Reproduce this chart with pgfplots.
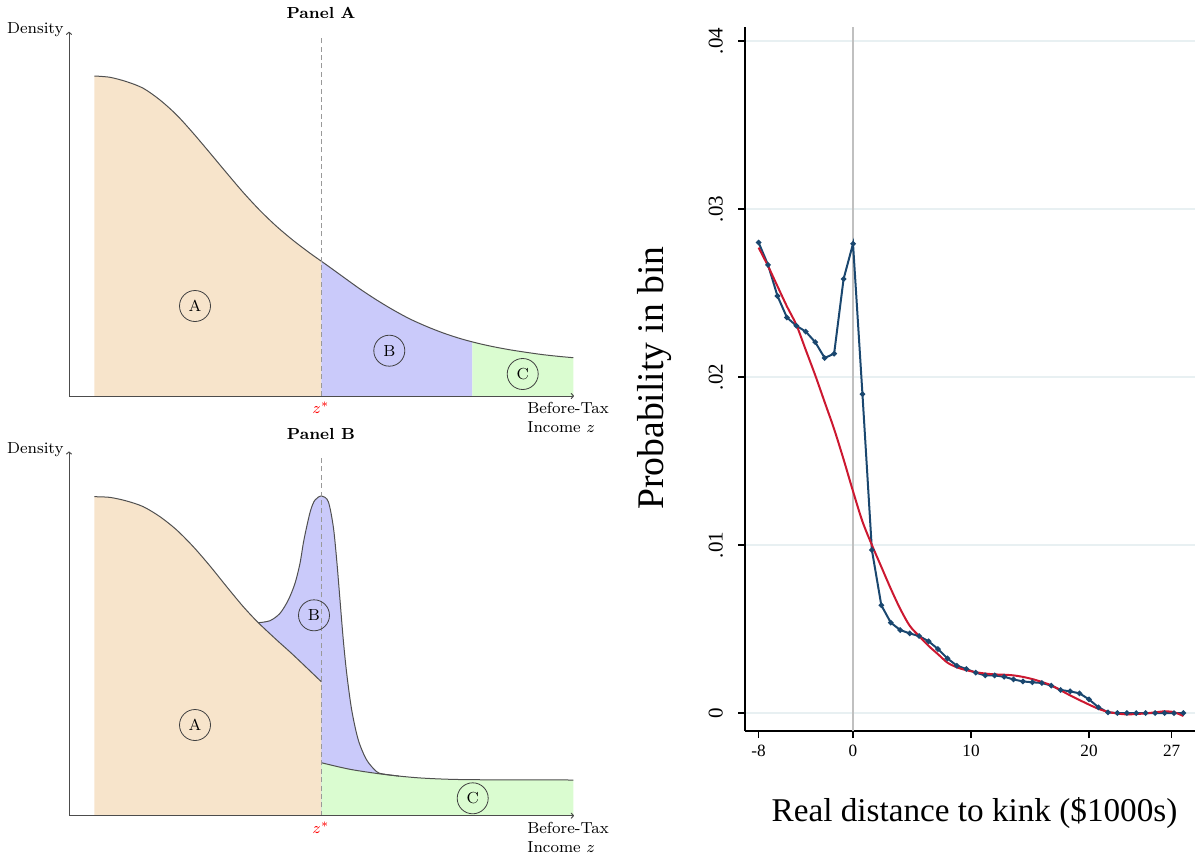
\documentclass[border=0pt]{standalone}
\usepackage{fontspec}
\usepackage{pgfplots}
\pgfplotsset{compat=1.18}
\usetikzlibrary{arrows.meta}
\newfontfamily\stata{Liberation Serif}
\definecolor{colA}{RGB}{247,228,203}
\definecolor{colB}{RGB}{202,202,250}
\definecolor{colC}{RGB}{218,252,208}
\definecolor{curv}{RGB}{80,80,80}
\definecolor{navy}{RGB}{26,71,111}
\definecolor{cranb}{RGB}{204,24,48}
\definecolor{sgrid}{RGB}{232,240,242}
\definecolor{zline}{RGB}{192,192,192}

\begin{document}
\begin{tikzpicture}
\useasboundingbox (0,0) rectangle (597.5pt,429.5pt);
\pgfplotsset{
  panel/.style={
    scale only axis, width=252.5pt, height=182.15pt,
    xmin=0, xmax=505, ymin=0, ymax=364.3,
    hide axis, clip=false, anchor=south west,
  },
}
\tikzset{
  circ/.style={circle, draw=black!75, line width=0.4pt, minimum size=15.5pt, inner sep=0pt, font=\fontsize{8}{9.5}\selectfont},
  lab/.style={font=\fontsize{8}{9.5}\selectfont},
  axarr/.style={draw=black!70, line width=0.5pt, -{To[length=1.6pt,width=3pt]}},
}

% ---------------- Panel A ----------------
\begin{axis}[panel, at={(34.5pt,231.5pt)}]
\addplot[fill=colA, draw=none, smooth] coordinates {(25.3,320) (41,318.7) (57.7,314.3) (74.3,307.7) (91,296) (107.7,281) (124.3,262.7) (141,243) (157.7,223) (174.3,203.5) (191,185.5) (207.7,169.5) (224.3,155.5) (241,142.8) (252.3,134.7)} \closedcycle;
\addplot[fill=colB, draw=none, smooth] coordinates {(252.3,134.7) (257.7,131) (274.3,119) (291,107) (307.7,96) (324.3,86) (341,77) (357.7,69.5) (374.3,63) (391,57.5) (403.3,54.2)} \closedcycle;
\addplot[fill=colC, draw=none, smooth] coordinates {(403.3,54.2) (407.7,53) (424.3,49.3) (441,46.2) (457.7,43.6) (474.3,41.3) (491,39.5) (504.3,38.3)} \closedcycle;
\addplot[curv, line width=0.5pt, smooth] coordinates {(25.3,320) (41,318.7) (57.7,314.3) (74.3,307.7) (91,296) (107.7,281) (124.3,262.7) (141,243) (157.7,223) (174.3,203.5) (191,185.5) (207.7,169.5) (224.3,155.5) (241,142.8) (257.7,131) (274.3,119) (291,107) (307.7,96) (324.3,86) (341,77) (357.7,69.5) (374.3,63) (391,57.5) (407.7,53) (424.3,49.3) (441,46.2) (457.7,43.6) (474.3,41.3) (491,39.5) (504.3,38.3)};
\addplot[black!40, line width=0.4pt, dash pattern=on 2.5pt off 1.7pt] coordinates {(252.3,0) (252.3,361)};
\draw[axarr] (axis cs:0,0) -- (axis cs:505,0);
\draw[axarr] (axis cs:0,0) -- (axis cs:0,364.3);
\node[circ] at (axis cs:126,90) {A};
\node[circ] at (axis cs:320.3,45.3) {B};
\node[circ] at (axis cs:453.7,22) {C};
\node[lab, anchor=east, inner sep=1pt] at (axis cs:-3,366) {Density};
\node[lab, font=\fontsize{8}{9.5}\selectfont\bfseries] at (axis cs:252,383) {Panel A};
\node[lab, text=red] at (axis cs:252,-12) {$z^{*}$};
\node[lab, anchor=west, align=left, inner sep=0pt] at (axis cs:458,-21.5) {Before-Tax\\Income $z$};
\end{axis}

% ---------------- Panel B ----------------
\begin{axis}[panel, at={(34.5pt,21.65pt)}]
\addplot[fill=colB, draw=none, smooth] coordinates {(189.3,193) (201,195) (211,202.4) (219.3,215.7) (226,232.4) (231,252.4) (234.3,272.4) (237.7,289) (241.7,305.7) (246,315.7) (252.7,319.7) (259.3,314) (264.3,289) (267.7,255.7) (271,215.7) (274.3,175.7) (277.7,142.4) (282.7,105.7) (289.3,75.7) (297.7,55.7) (307.7,44) (314.3,41.7) (330,39.6)} \closedcycle;
\addplot[fill=colA, draw=none, smooth] coordinates {(25.3,319) (41,318.3) (57.7,314.7) (74.3,309) (91,299) (107.7,285.7) (124.3,269) (141,249.7) (157.7,229) (174.3,209) (189.3,193) (207.7,175.7) (224.3,160.7) (252.3,134)} \closedcycle;
\addplot[fill=colC, draw=none, smooth] coordinates {(252.3,53) (281,46.4) (314.3,41.4) (347.7,38) (381,36.4) (420,35.9) (504.3,35.7)} \closedcycle;
\addplot[curv, line width=0.5pt, smooth] coordinates {(25.3,319) (41,318.3) (57.7,314.7) (74.3,309) (91,299) (107.7,285.7) (124.3,269) (141,249.7) (157.7,229) (174.3,209) (189.3,193) (207.7,175.7) (224.3,160.7) (252.3,134)};
\addplot[curv, line width=0.5pt, smooth] coordinates {(189.3,193) (201,195) (211,202.4) (219.3,215.7) (226,232.4) (231,252.4) (234.3,272.4) (237.7,289) (241.7,305.7) (246,315.7) (252.7,319.7) (259.3,314) (264.3,289) (267.7,255.7) (271,215.7) (274.3,175.7) (277.7,142.4) (282.7,105.7) (289.3,75.7) (297.7,55.7) (307.7,44) (314.3,41.7) (330,39.6)};
\addplot[curv, line width=0.5pt, smooth] coordinates {(252.3,53) (281,46.4) (314.3,41.4) (347.7,38) (381,36.4) (420,35.9) (504.3,35.7)};
\addplot[black!40, line width=0.4pt, dash pattern=on 2.5pt off 1.7pt] coordinates {(252.3,0) (252.3,361)};
\draw[axarr] (axis cs:0,0) -- (axis cs:505,0);
\draw[axarr] (axis cs:0,0) -- (axis cs:0,364.3);
\node[circ] at (axis cs:126,90.7) {A};
\node[circ] at (axis cs:245,200.4) {B};
\node[circ] at (axis cs:403.7,17.4) {C};
\node[lab, anchor=east, inner sep=1pt] at (axis cs:-3,366) {Density};
\node[lab, font=\fontsize{8}{9.5}\selectfont\bfseries] at (axis cs:252,381.7) {Panel B};
\node[lab, text=red] at (axis cs:252,-12.3) {$z^{*}$};
\node[lab, anchor=west, align=left, inner sep=0pt] at (axis cs:458,-21.8) {Before-Tax\\Income $z$};
\end{axis}

% ---------------- Right chart ----------------
\begin{axis}[
  at={(372.5pt,64pt)}, anchor=south west, scale only axis, width=225pt, height=352pt,
  xmin=-9.153, xmax=28.98, ymin=-0.00107, ymax=0.04083,
  axis x line*=bottom, axis y line*=left,
  axis line style={line width=0.7pt, black},
  xtick={-8,0,10,20,27}, xticklabels={-8,0,10,20,27},
  ytick={0,0.01,0.02,0.03,0.04}, yticklabels={0,.01,.02,.03,.04},
  tick align=outside, major tick length=3.5pt, tick style={line width=0.6pt, black},
  ymajorgrids, grid style={sgrid, line width=0.9pt},
  xticklabel style={font=\stata\fontsize{8.6}{9}\selectfont},
  yticklabel style={font=\stata\fontsize{10.5}{11}\selectfont, rotate=90, anchor=south},
  yticklabel shift=4pt,
  scaled y ticks=false, clip=false,
]
\addplot[zline, line width=1pt] coordinates {(0,-0.00107) (0,0.04083)};
\addplot[navy, line width=1pt, mark=*, mark size=0.8pt] coordinates {
(-8,0.0280) (-7.2,0.02667) (-6.4,0.02482) (-5.6,0.02354) (-4.8,0.02305) (-4.0,0.02270) (-3.2,0.02207) (-2.4,0.02113) (-1.6,0.02139) (-0.8,0.02583) (0,0.02793) (0.8,0.01898) (1.6,0.00970) (2.4,0.00641) (3.2,0.00538) (4.0,0.00494) (4.8,0.00474) (5.6,0.00458) (6.4,0.00427) (7.2,0.00381) (8.0,0.00325) (8.8,0.00282) (9.6,0.00262) (10.4,0.00240) (11.2,0.00224) (12.0,0.00224) (12.8,0.00216) (13.6,0.00200) (14.4,0.00188) (15.2,0.00183) (16.0,0.00179) (16.8,0.00163) (17.6,0.00137) (18.4,0.00129) (19.2,0.00117) (20.0,0.00081) (20.8,0.00034) (21.6,0.00004) (22.4,0) (23.2,0) (24.0,0) (24.8,0) (25.6,0) (26.4,0) (27.2,0) (28.0,0)};
\addplot[cranb, line width=1pt, smooth] coordinates {
(-8,0.0277) (-7.2,0.0266) (-6.4,0.0254) (-5.6,0.0242) (-4.8,0.0231) (-4.0,0.0216) (-3.2,0.0201) (-2.4,0.0185) (-1.6,0.0169) (-0.8,0.0151) (0,0.0132) (0.8,0.0114) (1.6,0.0100) (2.4,0.0087) (3.2,0.0074) (4.0,0.0062) (4.8,0.0052) (5.6,0.00458) (6.4,0.0040) (7.2,0.0035) (8.0,0.0030) (8.8,0.00272) (9.6,0.00255) (10.4,0.00243) (11.2,0.00235) (12.0,0.0023) (12.8,0.00228) (13.6,0.00224) (14.4,0.00215) (15.2,0.00202) (16.0,0.00185) (16.8,0.00165) (17.6,0.00135) (18.4,0.00105) (19.2,0.00077) (20.0,0.0005) (20.8,0.00025) (21.6,0.00007) (22.4,-0.00003) (23.2,-0.00008) (24.0,-0.00006) (24.8,-0.00002) (25.6,0.00004) (26.4,0.0001) (27.2,0.00005) (28.0,-0.00018)};
\end{axis}
\node[rotate=90, anchor=base, font=\stata\fontsize{18.8}{20}\selectfont] at (331.5pt,240.5pt) {Probability in bin};
\node[anchor=base, font=\stata\fontsize{16.6}{18}\selectfont] at (487.25pt,19pt) {Real distance to kink (\$1000s)};
\end{tikzpicture}
\end{document}
